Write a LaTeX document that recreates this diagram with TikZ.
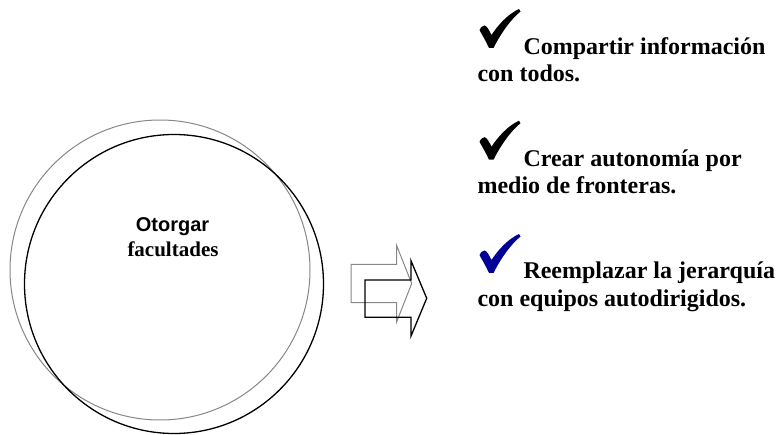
\documentclass[tikz,border=0pt]{standalone}
\usepackage{fontspec}
\setmainfont{Liberation Serif}
\newfontfamily\arialfont{Liberation Sans}
\definecolor{ringgray}{RGB}{135,135,135}
\definecolor{checkblue}{RGB}{0,0,150}
\begin{document}
\begin{tikzpicture}[x=1pt,y=-1pt,
  ring/.style={circle,draw,inner sep=0pt,minimum size=#1},
  itemtext/.style={anchor=base west,inner sep=0pt,font=\fontsize{24}{27}\selectfont\bfseries},
  checkmark/.pic={\fill[pic actions] (1.5,25) .. controls (3,22) and (5,20.5) .. (6.5,20.5)
      .. controls (9,21) and (11,25) .. (13.5,30)
      .. controls (20,20) and (30,9) .. (41,4)
      -- (42.5,6.5)
      .. controls (32,15) and (22,30) .. (15.5,43)
      -- (11,43)
      .. controls (8,36) and (4,30) .. cycle;}
]
\useasboundingbox (0,0) rectangle (778,435);
% circles
\node[ring=300pt,draw=ringgray,line width=1pt] (gc) at (160,270) {};
\node[ring=299pt,draw=black,line width=1.3pt] (bc) at (174,284) {};
\node[anchor=base,inner sep=0pt,font=\arialfont\fontsize{20}{22}\selectfont\bfseries] (t1) at (172.5,231.7) {Otorgar};
\node[anchor=base,inner sep=0pt,font=\fontsize{21}{22}\selectfont\bfseries] (t2) at (173,256.7) {facultades};
% block arrows
\draw[ringgray,line width=1pt,line join=miter] (351,264.3) -- (396.7,264.3) -- (396.7,245.7) -- (411.7,283.5) -- (396.7,321.7) -- (396.7,302.7) -- (351,302.7) -- cycle;
\draw[black,line width=1.3pt,line join=miter] (365,280) -- (411,280) -- (411,260.7) -- (426.7,298.3) -- (411,336) -- (411,317.3) -- (365,317.3) -- cycle;
% items
\pic[black] at (478,5) {checkmark};
\node[itemtext] (a1) at (523.3,54.3) {Compartir información};
\node[itemtext] (a2) at (477.3,81.7) {con todos.};
\pic[black] at (478,116.7) {checkmark};
\node[itemtext] (b1) at (523.3,166.7) {Crear autonomía por};
\node[itemtext] (b2) at (477.3,194) {medio de fronteras.};
\pic[checkblue] at (478,230) {checkmark};
\node[itemtext] (c1) at (523.3,278.3) {Reemplazar la jerarquía};
\node[itemtext] (c2) at (477.3,306) {con equipos autodirigidos.};
\end{tikzpicture}
\end{document}
